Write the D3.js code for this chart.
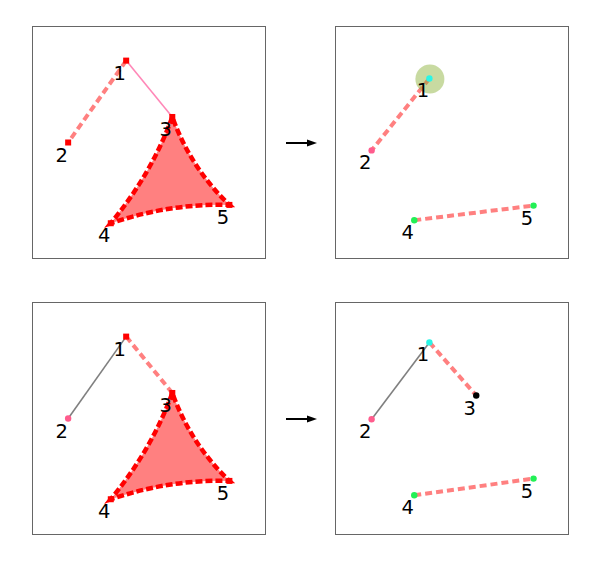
<!DOCTYPE html>
<html>
<head>
    <meta http-equiv="content-Type" content="text/html; charset=utf-8"/>
    <style>
    body { margin: 0; background: #fff; }
    text { font-family: "DejaVu Sans"; }
    </style>
</head>
<body>
<div id="chart"></div>

<script src="https://cdn.jsdelivr.net/npm/d3@7"></script>
<script>

// ***************
// Data
// ***************

var nodeNames = ["1", "2", "3", "4", "5"];

// node positions (unit coordinates, y up) for the original layout and the two results
var layoutLeft        = [[0.402, 0.853], [0.153, 0.500], [0.600, 0.610], [0.336, 0.152], [0.845, 0.231]];
var layoutTopRight    = [[0.403, 0.776], [0.155, 0.466], null,           [0.338, 0.165], [0.850, 0.228]];
var layoutBottomRight = [[0.403, 0.828], [0.155, 0.497], [0.604, 0.599], [0.338, 0.169], [0.850, 0.241]];

// node kinds per panel (null = node not shown)
var kindsTopLeft     = ["square", "square", "square", "square", "square"];
var kindsTopRight    = ["cyan", "pink", null, "green", "green"];
var kindsBottomLeft  = ["square", "pink", "square", "square", "square"];
var kindsBottomRight = ["cyan", "pink", "black", "green", "green"];

// edges: member nodes and kind
var edgesTopLeft     = [{nodes: ["1", "2"], kind: "dashed"}, {nodes: ["1", "3"], kind: "pink"},
                        {nodes: ["3", "4", "5"], kind: "hyper"}];
var edgesTopRight    = [{nodes: ["1", "2"], kind: "dashed"}, {nodes: ["4", "5"], kind: "dashed"},
                        {nodes: ["1"], kind: "loop"}];
var edgesBottomLeft  = [{nodes: ["1", "2"], kind: "gray"}, {nodes: ["1", "3"], kind: "dashed"},
                        {nodes: ["3", "4", "5"], kind: "hyper"}];
var edgesBottomRight = [{nodes: ["1", "2"], kind: "gray"}, {nodes: ["1", "3"], kind: "dashed"},
                        {nodes: ["4", "5"], kind: "dashed"}];

// ***************
// Styles
// ***************

var nodeColor = {square: "#ff0000", cyan: "#2af5e6", pink: "#ff5c8d", green: "#22f055", black: "#000000"};

var width = 602, height = 563;

var svg = d3.select("#chart").append("svg")
    .attr("width", width)
    .attr("height", height);

svg.append("defs").append("marker")
    .attr("id", "arrowhead")
    .attr("viewBox", "0 0 10 10")
    .attr("refX", 2)
    .attr("refY", 5)
    .attr("markerWidth", 5)
    .attr("markerHeight", 5)
    .attr("orient", "auto")
  .append("path")
    .attr("d", "M0,1.5 L10,5 L0,8.5 Z")
    .attr("fill", "#000");

var panels = [
  {x0: 32.5,  y0: 26.5,  layout: layoutLeft,        kinds: kindsTopLeft,     edges: edgesTopLeft},
  {x0: 335.5, y0: 26.5,  layout: layoutTopRight,    kinds: kindsTopRight,    edges: edgesTopRight},
  {x0: 32.5,  y0: 302.5, layout: layoutLeft,        kinds: kindsBottomLeft,  edges: edgesBottomLeft},
  {x0: 335.5, y0: 302.5, layout: layoutBottomRight, kinds: kindsBottomRight, edges: edgesBottomRight}
];

var pw = 233, ph = 232;

panels.forEach(function(p) {
  var x = d3.scaleLinear().domain([0, 1]).range([p.x0, p.x0 + pw]);
  var y = d3.scaleLinear().domain([0, 1]).range([p.y0 + ph, p.y0]);

  var g = svg.append("g");

  // frame
  g.append("rect")
      .attr("x", p.x0)
      .attr("y", p.y0)
      .attr("width", pw)
      .attr("height", ph)
      .attr("fill", "none")
      .attr("stroke", "#666")
      .attr("stroke-width", 1);

  function pos(name) {
    var c = p.layout[nodeNames.indexOf(name)];
    return [x(c[0]), y(c[1])];
  }

  // hyperedges (concave filled triangle)
  p.edges.filter(function(e) { return e.kind == "hyper"; }).forEach(function(e) {
    var pts = e.nodes.map(pos);
    var cx = d3.mean(pts, function(d) { return d[0]; }),
        cy = d3.mean(pts, function(d) { return d[1]; });
    var path = d3.path();
    path.moveTo(pts[0][0], pts[0][1]);
    for (var i = 0; i < pts.length; i++) {
      var a = pts[i], b = pts[(i + 1) % pts.length];
      var mx = (a[0] + b[0]) / 2, my = (a[1] + b[1]) / 2;
      var k = 0.34;
      path.quadraticCurveTo(mx + k * (cx - mx), my + k * (cy - my), b[0], b[1]);
    }
    path.closePath();
    g.append("path")
        .attr("d", path.toString())
        .attr("fill", "#ff8080")
        .attr("stroke", "#ff0000")
        .attr("stroke-width", 4.5)
        .attr("stroke-dasharray", "7,3");
  });

  // pairwise edges
  var pairs = p.edges.filter(function(e) { return e.nodes.length == 2; });
  g.selectAll(".link")
      .data(pairs)
      .enter()
      .append("line")
      .attr("class", "link")
      .attr("x1", function(d) { return pos(d.nodes[0])[0]; })
      .attr("y1", function(d) { return pos(d.nodes[0])[1]; })
      .attr("x2", function(d) { return pos(d.nodes[1])[0]; })
      .attr("y2", function(d) { return pos(d.nodes[1])[1]; })
      .attr("stroke", function(d) {
        return d.kind == "dashed" ? "#ff8080" : d.kind == "pink" ? "#ff88b8" : "#808080";
      })
      .attr("stroke-width", function(d) { return d.kind == "dashed" ? 4 : 1.6; })
      .attr("stroke-dasharray", function(d) { return d.kind == "dashed" ? "7,4" : null; });

  // singleton edges
  p.edges.filter(function(e) { return e.kind == "loop"; }).forEach(function(e) {
    var c = pos(e.nodes[0]);
    g.append("circle")
        .attr("cx", c[0] + 0.5)
        .attr("cy", c[1] + 0.5)
        .attr("r", 14.5)
        .attr("fill", "rgb(132,174,47)")
        .attr("fill-opacity", 0.45);
  });

  // nodes
  var nodes = nodeNames.map(function(n, i) { return {name: n, kind: p.kinds[i]}; })
      .filter(function(d) { return d.kind; });

  nodes.forEach(function(d) {
    var c = pos(d.name);
    if (d.kind == "square") {
      g.append("rect")
          .attr("x", c[0] - 3)
          .attr("y", c[1] - 3)
          .attr("width", 6)
          .attr("height", 6)
          .attr("fill", nodeColor[d.kind]);
    } else {
      g.append("circle")
          .attr("cx", c[0])
          .attr("cy", c[1])
          .attr("r", 3.2)
          .attr("fill", nodeColor[d.kind]);
    }
  });

  // labels
  g.selectAll(".label")
      .data(nodes)
      .enter()
      .append("text")
      .attr("class", "label")
      .attr("x", function(d) { return pos(d.name)[0] - 6.5; })
      .attr("y", function(d) { return pos(d.name)[1] + 19; })
      .attr("text-anchor", "middle")
      .attr("font-size", 19.5)
      .attr("fill", "#000")
      .text(function(d) { return d.name; });
});

// arrows between panels
[143, 419].forEach(function(ay) {
  svg.append("line")
      .attr("x1", 286)
      .attr("y1", ay)
      .attr("x2", 309)
      .attr("y2", ay)
      .attr("stroke", "#000")
      .attr("stroke-width", 2)
      .attr("marker-end", "url(#arrowhead)");
});

</script>
</body>
</html>
